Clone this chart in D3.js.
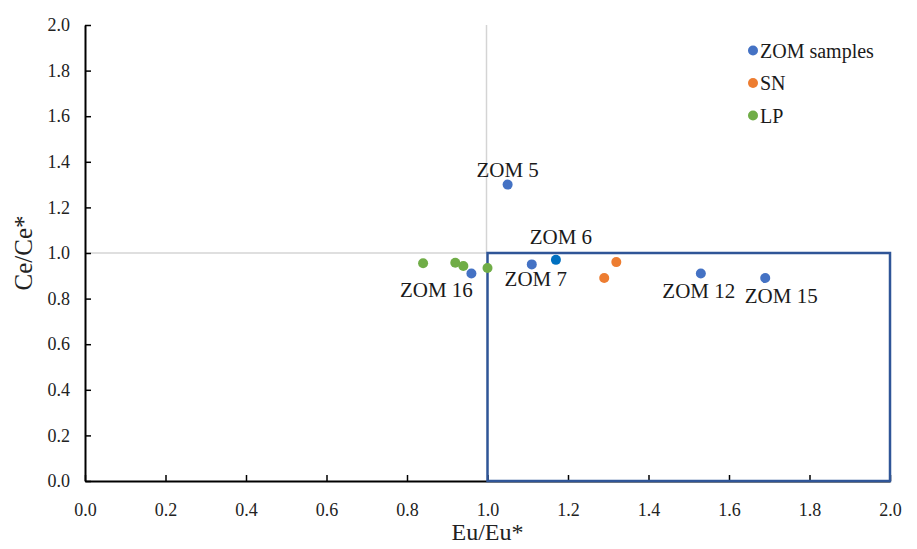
<!DOCTYPE html>
<html>
<head>
<meta charset="utf-8">
<script src="https://cdn.jsdelivr.net/npm/d3@7"></script>
<style>
  html, body { margin: 0; padding: 0; background: #fff; }
  svg { display: block; }
  svg text { font-family: "Liberation Serif", "DejaVu Serif", "Times New Roman", serif !important; }
</style>
</head>
<body>
<svg id="chart" width="917" height="549"></svg>
<script>
// ---- Data ----
const zomLabels = ["ZOM 5", "ZOM 6", "ZOM 7", "ZOM 16", "ZOM 12", "ZOM 15"];
const zomX = [1.05, 1.17, 1.11, 0.96, 1.53, 1.69];
const zomY = [1.30, 0.97, 0.95, 0.91, 0.91, 0.89];
const snX = [1.32, 1.29];
const snY = [0.96, 0.89];
const lpX = [0.84, 0.92, 0.94, 1.00];
const lpY = [0.955, 0.957, 0.943, 0.934];
const seriesNames = ["ZOM samples", "SN", "LP"];
const xTicks = [0, 0.2, 0.4, 0.6, 0.8, 1.0, 1.2, 1.4, 1.6, 1.8, 2.0];
const yTicks = [0, 0.2, 0.4, 0.6, 0.8, 1.0, 1.2, 1.4, 1.6, 1.8, 2.0];
const boxX = [1.0, 2.0];
const boxY = [0.0, 1.0];

// ---- Layout / style ----
const labelOffsets = [[0, -8], [5, -16], [4, 22], [-35, 23], [-2, 24], [16, 25]];
const colors = { zom: "#4472C4", zom6: "#0070C0", sn: "#ED7D31", lp: "#70AD47" };
const FONT = "'Liberation Serif', 'DejaVu Serif', 'Times New Roman', serif";

const svg = d3.select("#chart");
const x = d3.scaleLinear().domain([0, 2]).range([85, 890]);
const y = d3.scaleLinear().domain([0, 2]).range([481, 25]);

// reference grey lines at 1.0
svg.append("line")
  .attr("x1", x(0)).attr("x2", x(1)).attr("y1", y(1)).attr("y2", y(1))
  .attr("stroke", "#d4d4d4").attr("stroke-width", 1.5);
svg.append("line")
  .attr("x1", x(1) - 1).attr("x2", x(1) - 1).attr("y1", y(2)).attr("y2", y(1))
  .attr("stroke", "#d4d4d4").attr("stroke-width", 1.5);

// axes
const xAxis = d3.axisBottom(x).tickValues(xTicks).tickFormat(d3.format(".1f"))
  .tickSizeInner(-6).tickSizeOuter(0).tickPadding(22);
const gx = svg.append("g").attr("transform", `translate(0,${y(0)})`).call(xAxis)
  .attr("font-family", FONT);
gx.select(".domain").attr("stroke", "#000").attr("stroke-width", 2);
gx.selectAll(".tick line").attr("stroke", "#000").attr("stroke-width", 1.5);
gx.selectAll(".tick text").attr("font-size", 18).attr("fill", "#222");

const yAxis = d3.axisLeft(y).tickValues(yTicks).tickFormat(d3.format(".1f"))
  .tickSizeInner(-6).tickSizeOuter(0).tickPadding(15);
const gy = svg.append("g").attr("transform", `translate(${x(0)},0)`).call(yAxis)
  .attr("font-family", FONT);
gy.select(".domain").attr("stroke", "#000").attr("stroke-width", 2);
gy.selectAll(".tick line").attr("stroke", "#000").attr("stroke-width", 1.5);
gy.selectAll(".tick text").attr("font-size", 18).attr("fill", "#222");

// blue box
svg.append("rect")
  .attr("x", x(boxX[0])).attr("y", y(boxY[1]))
  .attr("width", x(boxX[1]) - x(boxX[0]))
  .attr("height", y(boxY[0]) - y(boxY[1]))
  .attr("fill", "none").attr("stroke", "#2F5597").attr("stroke-width", 2.5);

// axis titles
svg.append("text").attr("x", x(1)).attr("y", 540).attr("text-anchor", "middle")
  .attr("font-family", FONT).attr("font-size", 24).attr("fill", "#222").text("Eu/Eu*");
svg.append("text").attr("transform", `translate(32,${y(1)}) rotate(-90)`)
  .attr("font-family", FONT).attr("text-anchor", "middle").attr("font-size", 25)
  .attr("fill", "#222").text("Ce/Ce*");

// points
const r = 5;
svg.append("g").selectAll("circle").data(lpX.map((v, i) => [v, lpY[i]])).join("circle")
  .attr("cx", d => x(d[0])).attr("cy", d => y(d[1])).attr("r", r).attr("fill", colors.lp);
svg.append("g").selectAll("circle").data(snX.map((v, i) => [v, snY[i]])).join("circle")
  .attr("cx", d => x(d[0])).attr("cy", d => y(d[1])).attr("r", r).attr("fill", colors.sn);
svg.append("g").selectAll("circle").data(zomX.map((v, i) => [v, zomY[i], zomLabels[i]])).join("circle")
  .attr("cx", d => x(d[0])).attr("cy", d => y(d[1])).attr("r", r)
  .attr("fill", d => d[2] === "ZOM 6" ? colors.zom6 : colors.zom);

// labels
svg.append("g").selectAll("text").data(zomX.map((v, i) => [v, zomY[i], zomLabels[i], labelOffsets[i]])).join("text")
  .attr("x", d => x(d[0]) + d[3][0]).attr("y", d => y(d[1]) + d[3][1])
  .attr("text-anchor", "middle").attr("font-family", FONT).attr("font-size", 21).attr("fill", "#1a1a1a")
  .text(d => d[2]);

// legend
const legColors = [colors.zom, colors.sn, colors.lp];
const legY = [50.5, 83, 115.5];
const leg = svg.append("g");
seriesNames.forEach((name, i) => {
  leg.append("circle").attr("cx", 753).attr("cy", legY[i]).attr("r", 5).attr("fill", legColors[i]);
  leg.append("text").attr("x", 760).attr("y", legY[i] + 7).attr("font-family", FONT).attr("font-size", 20)
    .attr("fill", "#1a1a1a").text(name);
});
</script>
</body>
</html>
